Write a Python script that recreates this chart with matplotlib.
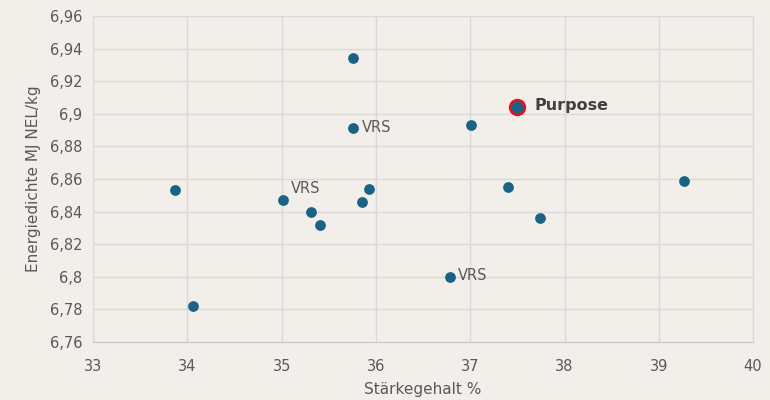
import matplotlib
matplotlib.use("Agg")
import matplotlib.pyplot as plt
from matplotlib.ticker import FuncFormatter

# Stärkegehalt % vs Energiedichte
staerke = [33.87, 34.06, 35.01, 35.31, 35.41, 35.76, 35.76, 35.85, 35.93,
           36.78, 37.01, 37.40, 37.74, 39.27]
energie = [6.853, 6.782, 6.847, 6.840, 6.832, 6.934, 6.891, 6.846, 6.854,
           6.800, 6.893, 6.855, 6.836, 6.859]
labels = ["", "", "VRS", "", "", "", "VRS", "", "", "VRS", "", "", "", ""]

purpose_x = 37.50
purpose_y = 6.904

bg = "#F2EFEA"
point_col = "#1B6386"
text_col = "#595959"
grid_col = "#D9D9D9"

fig = plt.figure(figsize=(7.7, 4.0), dpi=100, facecolor=bg)
ax = fig.add_axes([0.121, 0.145, 0.857, 0.815])
ax.set_facecolor(bg)

ax.scatter(staerke, energie, s=60, color=point_col, zorder=3, linewidths=0)
ax.scatter([purpose_x], [purpose_y], s=110, color=point_col, edgecolors="#E3141B",
           linewidths=2, zorder=4)

for x, y, lab in zip(staerke, energie, labels):
    if not lab:
        continue
    if x < 35.5:
        ax.annotate(lab, (x, y), xytext=(6, 3), textcoords="offset points",
                    ha="left", va="bottom", fontsize=10.5, color=text_col)
    else:
        ax.annotate(lab, (x, y), xytext=(6, 1), textcoords="offset points",
                    ha="left", va="center", fontsize=10.5, color=text_col)
ax.annotate("Purpose", (purpose_x, purpose_y), xytext=(12, 1), textcoords="offset points",
            ha="left", va="center", fontsize=11.5, color="#404040", fontweight="bold")

ax.set_xlim(33, 40)
ax.set_ylim(6.76, 6.96)
ax.set_xticks(range(33, 41))
ax.set_yticks([6.76 + 0.02 * i for i in range(11)])

def fmt_y(v, pos):
    s = ("%.2f" % v).rstrip("0").rstrip(".")
    return s.replace(".", ",")

ax.yaxis.set_major_formatter(FuncFormatter(fmt_y))
ax.grid(True, color=grid_col, linewidth=1)
ax.set_axisbelow(True)
for sp in ax.spines.values():
    sp.set_color(grid_col)
ax.spines["bottom"].set_color("#C8C8C8")
ax.tick_params(length=0, labelsize=10.5, colors=text_col, pad=8)
ax.tick_params(axis="x", pad=12)

ax.set_xlabel("Stärkegehalt %", fontsize=11, color=text_col, labelpad=6)
ax.set_ylabel("Energiedichte MJ NEL/kg", fontsize=11, color=text_col, labelpad=6)

fig.savefig("out.png", dpi=100, facecolor=bg)
